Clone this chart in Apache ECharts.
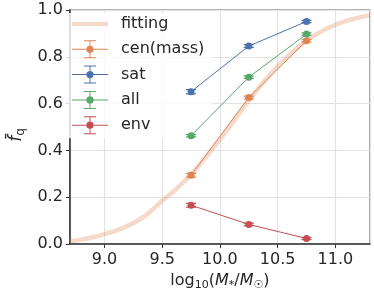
<!DOCTYPE html>
<html>
<head>
<meta charset="utf-8">
<script src="https://cdn.jsdelivr.net/npm/echarts@6/dist/echarts.min.js"></script>
<style>
html,body{margin:0;padding:0;background:#fff;}
#c{width:374px;height:296px;}
</style>
</head>
<body>
<div id="c"></div>
<script>
// ---- data ----
var binX = [9.75, 10.25, 10.75];
var cenY = [0.294, 0.626, 0.869];
var cenErr = [0.008, 0.006, 0.005];
var satY = [0.651, 0.846, 0.951];
var satErr = [0.009, 0.006, 0.005];
var allY = [0.463, 0.713, 0.897];
var allErr = [0.005, 0.005, 0.005];
var envY = [0.166, 0.084, 0.024];
var envErr = [0.008, 0.005, 0.004];
var fitX = [8.7, 8.8, 8.9, 9.0, 9.1, 9.2, 9.3, 9.4, 9.5, 9.6, 9.7, 9.8, 9.9, 10.0, 10.1, 10.2, 10.3, 10.4, 10.5, 10.6, 10.7, 10.8, 10.9, 11.0, 11.1, 11.2, 11.3];
var fitY = [0.012, 0.019, 0.029, 0.043, 0.058, 0.078, 0.104, 0.14, 0.185, 0.226, 0.272, 0.325, 0.385, 0.447, 0.512, 0.58, 0.645, 0.705, 0.76, 0.808, 0.85, 0.885, 0.914, 0.937, 0.954, 0.967, 0.977];
var yTicks = [0.0, 0.2, 0.4, 0.6, 0.8, 1.0];
var xTicks = [9.0, 9.5, 10.0, 10.5, 11.0];
var names = ['fitting', 'cen(mass)', 'sat', 'all', 'env'];
var colors = {fit: 'rgba(221,132,82,0.3)', cen: '#dd8452', sat: '#4c72b0', all: '#55a868', env: '#c44e52'};

function pairs(xs, ys) { return xs.map(function (x, i) { return [x, ys[i]]; }); }
function errData(xs, ys, es) { return xs.map(function (x, i) { return [x, ys[i] - es[i], ys[i] + es[i]]; }); }

var chart = echarts.init(document.getElementById('c'), null, {renderer: 'canvas'});

function errSeries(name, xs, ys, es, color) {
  return {
    name: name, type: 'custom', z: 4,
    data: errData(xs, ys, es),
    encode: {x: 0, y: [1, 2]},
    renderItem: function (params, api) {
      var lo = api.coord([api.value(0), api.value(1)]);
      var hi = api.coord([api.value(0), api.value(2)]);
      var hw = 5;
      var st = {stroke: color, lineWidth: 1.3};
      return {type: 'group', children: [
        {type: 'line', shape: {x1: lo[0], y1: lo[1], x2: hi[0], y2: hi[1]}, style: st},
        {type: 'line', shape: {x1: lo[0] - hw, y1: lo[1], x2: lo[0] + hw, y2: lo[1]}, style: st},
        {type: 'line', shape: {x1: hi[0] - hw, y1: hi[1], x2: hi[0] + hw, y2: hi[1]}, style: st}
      ]};
    }
  };
}
function lineSeries(name, xs, ys, color) {
  return {
    name: name, type: 'line', z: 5,
    data: pairs(xs, ys),
    symbol: 'circle', symbolSize: 7,
    itemStyle: {color: color},
    lineStyle: {color: color, width: 1},
    emphasis: {disabled: true}
  };
}

var errIcon = 'path://M0,9.5 H36 V10.5 H0 Z M17.5,1 H18.5 V19 H17.5 Z M12,1 H24 V2 H12 Z M12,18 H24 V19 H12 Z M21.6,10 A3.6,3.6 0 1,1 14.4,10 A3.6,3.6 0 1,1 21.6,10 Z';
var fitIcon = 'path://M0,8 H36 V12 H0 Z M0,1 H0.01 V19 H0 Z';

var font = 'DejaVu Sans';
var txt = '#262626';

chart.setOption({
  animation: false,
  backgroundColor: '#fff',
  textStyle: {fontFamily: font},
  grid: {left: 62, right: 4, top: 10, bottom: 47, show: true, borderColor: '#6b6b6b', borderWidth: 1.2, backgroundColor: 'transparent'},
  legend: {
    left: 64, top: 13, orient: 'vertical',
    itemWidth: 36, itemHeight: 18, itemGap: 7.3,
    padding: [2, 8, 4, 8],
    backgroundColor: 'rgba(255,255,255,0.8)',
    textStyle: {fontSize: 16, color: txt, fontFamily: font, padding: [0, 0, 0, 8]},
    selectedMode: false,
    data: [
      {name: names[0], icon: fitIcon, itemStyle: {color: colors.fit}},
      {name: names[1], icon: errIcon, itemStyle: {color: colors.cen}},
      {name: names[2], icon: errIcon, itemStyle: {color: colors.sat}},
      {name: names[3], icon: errIcon, itemStyle: {color: colors.all}},
      {name: names[4], icon: errIcon, itemStyle: {color: colors.env}}
    ]
  },
  xAxis: {
    type: 'value', min: 8.7, max: 11.3,
    axisLine: {show: true, lineStyle: {color: '#333', width: 1.5}},
    axisTick: {show: true, length: 4, lineStyle: {color: '#333'}},
    splitLine: {show: true, lineStyle: {color: '#e3e3e3', width: 1.2}},
    axisLabel: {
      fontSize: 16, color: txt, margin: 8, fontFamily: font,
      showMinLabel: false, showMaxLabel: false,
      formatter: function (v) {
        for (var i = 0; i < xTicks.length; i++) { if (Math.abs(v - xTicks[i]) < 1e-6) return xTicks[i].toFixed(1); }
        return '';
      }
    },
    name: '{n|log}{s|10}{n|(}{i|M}{si|*}{n|/}{i|M}{s|☉}{n|)}',
    nameLocation: 'middle', nameGap: 21,
    nameTextStyle: {
      color: txt, fontFamily: font,
      rich: {
        n: {fontSize: 16, color: txt, fontFamily: font, lineHeight: 20},
        i: {fontSize: 16, color: txt, fontFamily: font, fontStyle: 'italic', lineHeight: 20},
        s: {fontSize: 11, color: txt, fontFamily: font, lineHeight: 7, verticalAlign: 'bottom'},
        si: {fontSize: 11, color: txt, fontFamily: font, fontStyle: 'italic', lineHeight: 7, verticalAlign: 'bottom'}
      }
    }
  },
  yAxis: {
    type: 'value', min: 0, max: 1, interval: 0.2,
    axisLine: {show: true, lineStyle: {color: '#333', width: 1.5}},
    axisTick: {show: true, length: 4, lineStyle: {color: '#333'}},
    splitLine: {show: true, lineStyle: {color: '#e3e3e3', width: 1.2}},
    axisLabel: {fontSize: 16, color: txt, margin: 7, fontFamily: font,
      formatter: function (v) { return v.toFixed(1); }},
    name: '{f|f\u0304}{q|q}',
    nameLocation: 'middle', nameGap: 40, nameRotate: 90,
    nameTextStyle: {
      color: txt, fontFamily: font, padding: [0, 16, 0, 0],
      rich: {
        f: {fontSize: 17, color: txt, fontFamily: font, fontStyle: 'italic', lineHeight: 20},
        q: {fontSize: 12, color: txt, fontFamily: font, lineHeight: 8, verticalAlign: 'bottom'}
      }
    }
  },
  series: [
    {name: names[0], type: 'line', z: 2, data: pairs(fitX, fitY), smooth: true, symbol: 'none',
     lineStyle: {color: colors.fit, width: 4.5}, itemStyle: {color: colors.fit}, emphasis: {disabled: true}},
    lineSeries(names[1], binX, cenY, colors.cen),
    errSeries(names[1], binX, cenY, cenErr, colors.cen),
    lineSeries(names[2], binX, satY, colors.sat),
    errSeries(names[2], binX, satY, satErr, colors.sat),
    lineSeries(names[3], binX, allY, colors.all),
    errSeries(names[3], binX, allY, allErr, colors.all),
    lineSeries(names[4], binX, envY, colors.env),
    errSeries(names[4], binX, envY, envErr, colors.env)
  ]
});
</script>
</body>
</html>
